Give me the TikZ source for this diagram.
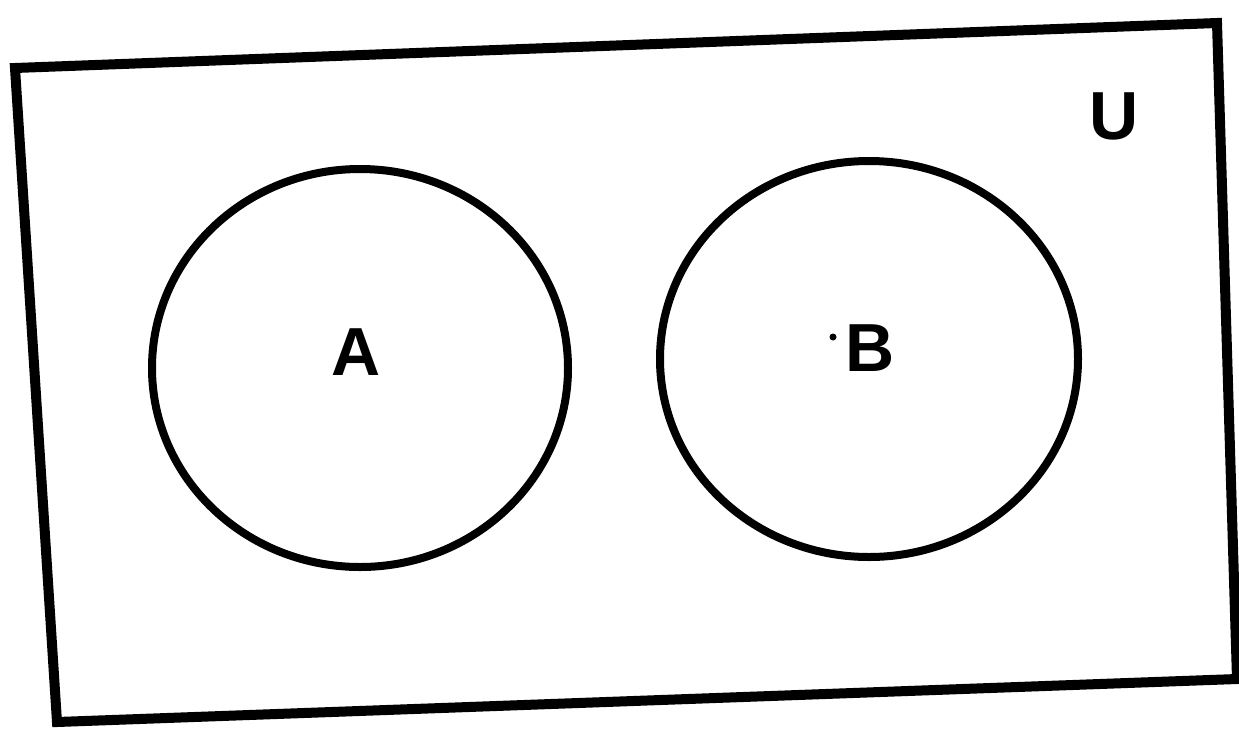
\documentclass[tikz,border=0pt]{standalone}
\usepackage{fontspec}
\setmainfont{Liberation Sans}
\begin{document}
\begin{tikzpicture}[x=1pt,y=-1pt,
  frame/.style={line width=10pt,line join=miter},
  setline/.style={line width=8pt},
  setlabel/.style={font=\fontsize{68}{68}\selectfont\bfseries,inner sep=0pt}]
\useasboundingbox (0,0) rectangle (1239,729);
% universe (slightly tilted frame)
\coordinate (tl) at (15,68);
\coordinate (tr) at (1217,23);
\coordinate (br) at (1237,679);
\coordinate (bl) at (57,722);
\draw[frame] (tl) -- (tr) -- (br) -- (bl) -- cycle;
% the two disjoint sets
\draw[setline] (360,368) ellipse [x radius=208, y radius=199];
\draw[setline] (869,359) ellipse [x radius=209, y radius=198];
% labels
\node[setlabel] (A) at (356,352) {A};
\node[setlabel] (B) at (870,348) {B};
\node[setlabel] (U) at (1114,116) {U};
\fill (833,337) circle (3.5);
\end{tikzpicture}
\end{document}
